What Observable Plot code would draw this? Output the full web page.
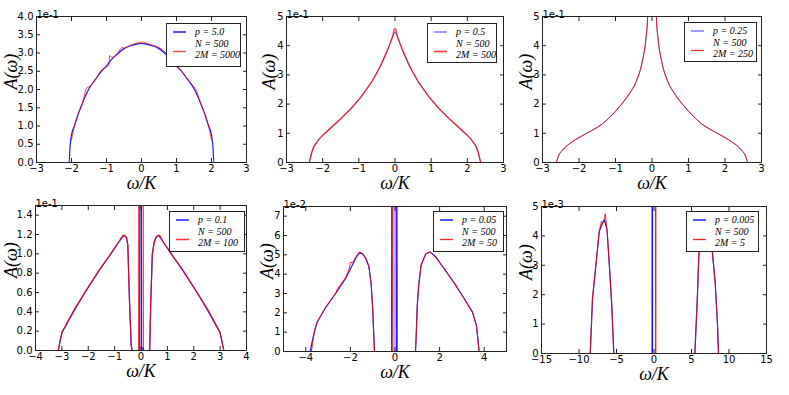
<!DOCTYPE html>
<html><head><meta charset="utf-8">
<script src="https://cdn.jsdelivr.net/npm/d3@7"></script>
<script src="https://cdn.jsdelivr.net/npm/@observablehq/plot@0.6"></script>
<style>
html,body{margin:0;padding:0;background:#fff;}
#fig{position:relative;width:789px;height:395px;overflow:hidden;background:#fff;}
.panel{position:absolute;}
.legend{position:absolute;background:#fff;border:1px solid #222;box-sizing:border-box;font-family:"Liberation Serif",serif;font-style:italic;font-size:10px;color:#000;}
.legend svg{position:absolute;left:0;top:0;}
.legend .t{position:absolute;white-space:nowrap;line-height:10px;}
</style></head><body><div id="fig"></div>
<script>
// ---------- data (values in the axis units shown, multiplier in offset text) ----------
const p1BlueX = [-2.2,-2.07,-2.04,-2.0,-1.9,-1.84,-1.7,-1.5,-1.3,-1.17,-1.0,-0.84,-0.7,-0.5,-0.3,-0.1,0,0.1,0.3,0.5,0.7,0.84,1.0,1.17,1.3,1.5,1.7,1.84,1.9,2.0,2.04,2.07,2.2];
const p1BlueY = [0,0,0.45,0.75,1.05,1.24,1.6,2.02,2.3,2.47,2.65,2.84,2.96,3.12,3.2,3.25,3.26,3.25,3.2,3.12,2.96,2.84,2.65,2.47,2.3,2.02,1.6,1.24,1.05,0.75,0.45,0,0];
const p1RedX = [-2.0,-1.9,-1.84,-1.7,-1.55,-1.5,-1.3,-1.17,-1.0,-0.93,-0.91,-0.84,-0.7,-0.55,-0.5,-0.3,-0.1,0,0.1,0.3,0.5,0.55,0.7,0.84,0.91,0.93,1.0,1.17,1.3,1.5,1.55,1.7,1.84,1.9,2.0];
const p1RedY = [0.62,1.05,1.24,1.58,2.06,2.07,2.3,2.5,2.62,2.66,2.93,2.88,2.98,3.15,3.13,3.22,3.28,3.3,3.28,3.22,3.15,3.12,3.0,2.88,2.85,2.68,2.62,2.47,2.3,2.07,2.0,1.58,1.24,1.05,0.62];

const p2BlueX = [-2.84,-2.37,-2.3,-2.24,-2.1,-2.0,-1.8,-1.5,-1.2,-0.95,-0.63,-0.4,-0.21,-0.07,0,0.07,0.21,0.4,0.63,0.95,1.2,1.5,1.8,2.0,2.1,2.24,2.3,2.37,2.84];
const p2BlueY = [0,0,0.35,0.55,0.8,0.92,1.15,1.5,1.87,2.22,2.78,3.3,3.84,4.29,4.48,4.29,3.84,3.3,2.78,2.22,1.87,1.5,1.15,0.92,0.8,0.55,0.35,0,0];
const p2RedX = [-2.37,-2.3,-2.24,-2.1,-2.0,-1.8,-1.5,-1.22,-1.18,-0.95,-0.63,-0.4,-0.21,-0.07,-0.02,0.02,0.07,0.21,0.4,0.63,0.95,1.18,1.22,1.5,1.8,2.0,2.1,2.24,2.3,2.37];
const p2RedY = [0,0.35,0.56,0.8,0.93,1.16,1.5,1.84,1.9,2.23,2.79,3.31,3.84,4.3,4.57,4.57,4.3,3.84,3.31,2.79,2.23,1.9,1.84,1.5,1.16,0.93,0.8,0.56,0.35,0];

const p3BlueX = [-2.62,-2.55,-2.46,-2.19,-1.82,-1.36,-0.9,-0.62,-0.44,-0.26,-0.17,-0.12,-0.08,0.08,0.12,0.17,0.26,0.44,0.62,0.9,1.36,1.82,2.19,2.46,2.55,2.62];
const p3BlueY = [0,0.25,0.41,0.7,0.98,1.32,1.9,2.35,2.75,3.49,4.18,5.0,7.0,7.0,5.0,4.18,3.49,2.75,2.35,1.9,1.32,0.98,0.7,0.41,0.25,0];
const p3RedX = [-2.62,-2.55,-2.46,-2.19,-1.82,-1.36,-0.9,-0.62,-0.44,-0.26,-0.17,-0.12,-0.08,0.08,0.12,0.17,0.26,0.44,0.62,0.9,1.36,1.82,2.19,2.46,2.55,2.62];
const p3RedY = [0,0.26,0.41,0.71,0.98,1.33,1.9,2.36,2.75,3.5,4.2,5.0,7.0,7.0,5.0,4.2,3.5,2.75,2.36,1.9,1.33,0.98,0.71,0.41,0.26,0];

const p4BlueX = [-3.14,-3.05,-2.99,-2.54,-2.08,-1.6,-1.12,-0.85,-0.65,-0.55,-0.5,-0.44,-0.37,-0.34,-0.05,-0.04,0.01,0.02,0.05,0.08,0.11,0.33,0.37,0.43,0.5,0.58,0.67,0.85,1.12,1.6,2.08,2.54,2.99,3.05,3.14];
const p4BlueY = [0,0.12,0.19,0.41,0.62,0.82,1.01,1.12,1.19,1.17,1.09,0.54,0.05,0,0,3,3,0,0.02,0.03,0,0,0.5,1.0,1.12,1.18,1.19,1.12,1.01,0.82,0.62,0.41,0.19,0.12,0];
const p4RedX = [-3.14,-3.05,-2.99,-2.54,-2.08,-1.6,-1.12,-0.85,-0.7,-0.62,-0.55,-0.5,-0.44,-0.37,-0.34,-0.09,-0.08,0.08,0.09,0.33,0.37,0.43,0.5,0.58,0.65,0.72,0.85,1.12,1.6,2.08,2.54,2.99,3.05,3.14];
const p4RedY = [0,0.12,0.19,0.42,0.62,0.83,1.01,1.12,1.19,1.19,1.17,1.09,0.54,0.05,0,0,3,3,0,0,0.5,1.0,1.12,1.18,1.19,1.19,1.12,1.01,0.83,0.62,0.42,0.19,0.12,0];

const p5BlueX = [-4.5,-3.8,-3.75,-3.62,-3.5,-3.1,-2.66,-2.2,-1.9,-1.75,-1.6,-1.45,-1.3,-1.17,-1.07,-1.0,-0.95,-0.92,-0.15,-0.14,0.06,0.07,0.92,0.95,1.0,1.07,1.17,1.38,1.57,1.83,2.2,2.72,3.1,3.47,3.65,3.72,3.77,4.5];
const p5BlueY = [0,0,0.3,1.0,1.5,2.3,3.0,3.8,4.5,4.85,5.1,5.05,4.8,4.4,3.5,2.2,0.8,0,0,9,9,0,0,0.8,2.4,3.5,4.46,5.05,5.15,4.9,4.29,3.43,2.74,2.05,1.36,0.6,0,0];
const p5RedX = [-3.75,-3.62,-3.5,-3.1,-2.66,-2.6,-2.2,-2.05,-2.0,-1.9,-1.75,-1.6,-1.45,-1.3,-1.17,-1.07,-1.0,-0.95,-0.92,-0.13,-0.12,0.1,0.11,0.92,0.95,1.0,1.07,1.17,1.38,1.57,1.75,1.83,2.2,2.72,2.78,3.1,3.47,3.65,3.72,3.77];
const p5RedY = [0,1.0,1.5,2.3,3.0,3.2,3.85,4.3,4.6,4.6,4.9,5.15,5.05,4.8,4.4,3.5,2.2,0.8,0,0,9,9,0,0,0.8,2.4,3.5,4.46,5.05,5.15,4.95,4.85,4.3,3.45,3.3,2.74,2.05,1.36,0.6,0];
const p5BandX1 = [-0.14];
const p5BandX2 = [0.06];

const p6BlueX = [-8.5,-8.2,-7.75,-7.3,-6.85,-6.6,-6.26,-5.95,-5.63,-5.36,-0.26,-0.25,-0.2,-0.19,5.45,5.77,5.99,6.3,6.7,7.1,7.5,7.8,8.15,8.47,8.6];
const p6BlueY = [0,1.85,3.0,4.15,4.45,4.55,4.2,3.0,1.65,0,0,9,9,0,0,1.85,3.4,4.2,4.6,4.6,4.2,3.4,2.44,0.97,0];
const p6RedX = [-8.5,-8.2,-7.75,-7.3,-7.0,-6.85,-6.6,-6.5,-6.26,-5.95,-5.63,-5.36,0.19,0.2,0.25,0.26,5.45,5.77,5.99,6.3,6.7,7.1,7.5,7.8,8.15,8.47,8.6];
const p6RedY = [0,1.9,3.0,4.15,4.5,4.4,4.6,4.75,4.2,3.0,1.6,0,0,9,9,0,0,1.85,3.4,4.2,4.6,4.6,4.2,3.4,2.44,0.97,0];

const xTicks3 = [-3,-2,-1,0,1,2,3];
const xTicks4 = [-4,-3,-2,-1,0,1,2,3,4];
const xTicks5 = [-4,-2,0,2,4];
const xTicks15 = [-15,-10,-5,0,5,10,15];
const yTicks1 = [0,0.5,1,1.5,2,2.5,3,3.5,4];
const yTicks5 = [0,1,2,3,4,5];
const yTicks4 = [0,0.2,0.4,0.6,0.8,1.0,1.2,1.4];
const yTicks7 = [0,1,2,3,4,5,6,7];

const offsets = ["1e-1","1e-1","1e-1","1e-1","1e-2","1e-3"];
const legendP = ["p = 5.0","p = 0.5","p = 0.25","p = 0.1","p = 0.05","p = 0.005"];
const legendN = ["N = 500","N = 500","N = 500","N = 500","N = 500","N = 500"];
const legendM = ["2M = 5000","2M = 500","2M = 250","2M = 100","2M = 50","2M = 5"];
const xLabel = "ω/K";
const yLabel = "A(ω)";

// ---------- layout ----------
const pts = (xs, ys) => xs.map((x, i) => ({x, y: ys[i]}));
const f1 = d3.format(".1f"), f0 = d3.format("d");

const panels = [
  {box:[36,16,246,162], xd:[-3,3], yd:[0,4], xt:xTicks3, yt:yTicks1, yf:f1, blue:pts(p1BlueX,p1BlueY), red:pts(p1RedX,p1RedY), ydx:-25, curve:"monotone-x",
   leg:[166,23,241,67], bs:{o:0.9,w:1.2}, rs:{o:0.75,w:1}},
  {box:[286,16,503,162], xd:[-3,3], yd:[0,5], xt:xTicks3, yt:yTicks5, yf:f0, blue:pts(p2BlueX,p2BlueY), red:pts(p2RedX,p2RedY), ydx:-17, curve:"linear",
   leg:[427,23,497,63], bs:{o:0.6,w:1}, rs:{o:0.75,w:1.4}},
  {box:[542,16,761,162], xd:[-3,3], yd:[0,5], xt:xTicks3, yt:yTicks5, yf:f0, blue:pts(p3BlueX,p3BlueY), red:pts(p3RedX,p3RedY), ydx:-16, curve:"monotone-x",
   leg:[684,22,757,62], bs:{o:0.6,w:1}, rs:{o:0.8,w:1}},
  {box:[35,205,246,350], xd:[-4,4], yd:[0,1.5], xt:xTicks4, yt:yTicks4, yf:f1, blue:pts(p4BlueX,p4BlueY), red:pts(p4RedX,p4RedY), ydx:-24, curve:"linear",
   leg:[169,211,245,252], bs:{o:0.9,w:1.2}, rs:{o:0.8,w:1.2}},
  {box:[283,206,506,351], xd:[-5,5], yd:[0,7.5], xt:xTicks5, yt:yTicks7, yf:f0, blue:pts(p5BlueX,p5BlueY), red:pts(p5RedX,p5RedY), ydx:-16, curve:"linear",
   band:p5BandX1.map((x1,i)=>({x1, x2:p5BandX2[i]})),
   leg:[433,211,504,252], bs:{o:0.9,w:1.2}, rs:{o:0.85,w:1}},
  {box:[541,206,766,353], xd:[-15,15], yd:[0,5], xt:xTicks15, yt:yTicks5, yf:f0, blue:pts(p6BlueX,p6BlueY), red:pts(p6RedX,p6RedY), ydx:-15, curve:"linear",
   leg:[686,211,759,252], bs:{o:0.9,w:1.2}, rs:{o:0.85,w:1}}
];

const fig = document.getElementById("fig");
const mL = 45, mR = 12, mT = 20, mB = 40;
const tickFont = "DejaVu Sans";

panels.forEach((p, i) => {
  const w = p.box[2] - p.box[0], h = p.box[3] - p.box[1];
  const marks = [];
  if (p.band) marks.push(Plot.rect(p.band, {x1: "x1", x2: "x2", fill: "#0000ff", fillOpacity: 0.3}));
  marks.push(
    Plot.line(p.blue, {x: "x", y: "y", stroke: "#0000ff", strokeOpacity: p.bs.o, strokeWidth: p.bs.w, curve: p.curve, clip: true}),
    Plot.line(p.red, {x: "x", y: "y", stroke: "#ff0000", strokeOpacity: p.rs.o, strokeWidth: p.rs.w, curve: p.curve, clip: true}),
    Plot.frame({stroke: "#222", strokeWidth: 1}),
    Plot.axisX(p.xt, {anchor: "bottom", tickSize: -4, tickFormat: () => "", label: null, stroke: "#222"}),
    Plot.axisX(p.xt, {anchor: "top", tickSize: -4, tickFormat: () => "", label: null, stroke: "#222"}),
    Plot.axisY(p.yt, {anchor: "left", tickSize: -4, tickFormat: () => "", label: null, stroke: "#222"}),
    Plot.axisY(p.yt, {anchor: "right", tickSize: -4, tickFormat: () => "", label: null, stroke: "#222"}),
    Plot.axisX(p.xt, {anchor: "bottom", tickSize: 0, tickPadding: 2, tickFormat: f0, label: null, fontSize: 10, fontFamily: tickFont, fill: "#000"}),
    Plot.axisY(p.yt, {anchor: "left", tickSize: 0, tickPadding: 3, tickFormat: p.yf, label: null, fontSize: 10, fontFamily: tickFont, fill: "#000"}),
    Plot.text([xLabel], {frameAnchor: "bottom", dy: 21, text: d => d, fontFamily: "Liberation Serif", fontStyle: "italic", fontSize: 18, lineAnchor: "middle", fill: "#000"}),
    Plot.text([yLabel], {frameAnchor: "left", dx: p.ydx, rotate: -90, text: d => d, fontFamily: "Liberation Serif", fontStyle: "italic", fontSize: 18, lineAnchor: "middle", fill: "#000"}),
    Plot.text([offsets[i]], {frameAnchor: "top-left", dy: 1, textAnchor: "start", lineAnchor: "bottom", text: d => d, fontFamily: tickFont, fontSize: 10, fill: "#000"})
  );
  const chart = Plot.plot({
    width: w + mL + mR, height: h + mT + mB,
    marginLeft: mL, marginRight: mR, marginTop: mT, marginBottom: mB,
    x: {domain: p.xd}, y: {domain: p.yd},
    style: {background: "transparent", overflow: "visible", fontFamily: tickFont},
    marks
  });
  const div = document.createElement("div");
  div.className = "panel";
  div.style.left = (p.box[0] - mL) + "px";
  div.style.top = (p.box[1] - mT) + "px";
  div.appendChild(chart);
  fig.appendChild(div);

  // legend
  const [l, t, r, b] = p.leg;
  const lg = document.createElement("div");
  lg.className = "legend";
  lg.style.left = l + "px"; lg.style.top = t + "px";
  lg.style.width = (r - l) + "px"; lg.style.height = (b - t) + "px";
  lg.innerHTML =
    `<svg width="${r-l}" height="${b-t}"><line x1="6" x2="19" y1="8" y2="8" stroke="#0000ff" stroke-opacity="${p.bs.o}" stroke-width="${p.bs.w+0.3}"/>` +
    `<line x1="6" x2="19" y1="27.5" y2="27.5" stroke="#ff0000" stroke-opacity="${p.rs.o}" stroke-width="${p.rs.w+0.3}"/></svg>` +
    `<div class="t" style="left:28px;top:3px">${legendP[i]}</div>` +
    `<div class="t" style="left:28px;top:15px">${legendN[i]}</div>` +
    `<div class="t" style="left:28px;top:26px">${legendM[i]}</div>`;
  fig.appendChild(lg);
});
</script>
</body></html>
